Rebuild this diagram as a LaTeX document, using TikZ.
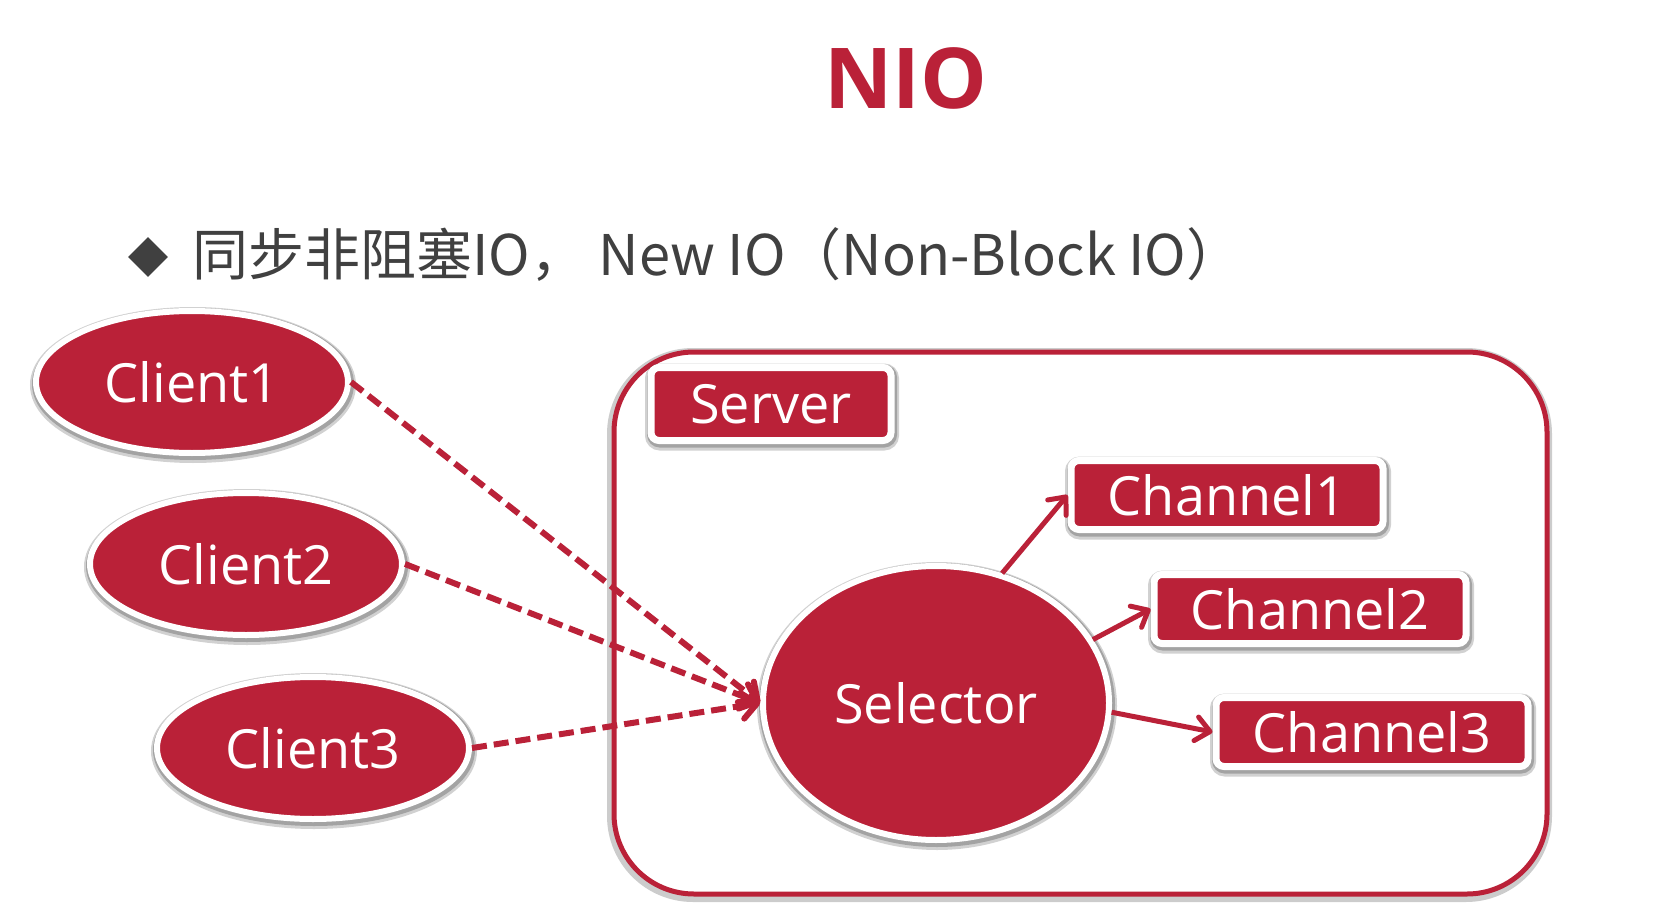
\documentclass[tikz,border=0pt]{standalone}
\usepackage{fontspec}
\setmainfont{Open Sans}
\newfontfamily\cjk{Noto Sans CJK SC}
\usetikzlibrary{shapes.geometric,arrows.meta}
\definecolor{nioRed}{RGB}{186,33,56}
\definecolor{nioGray}{RGB}{64,64,64}

\begin{document}
\begin{tikzpicture}[x=1pt, y=-1pt, every node/.append style={inner sep=0pt}]
    \tikzstyle{lifted}=[preaction={draw=black, draw opacity=0.18, line width=14pt, transform canvas={xshift=1pt, yshift=-3pt}},
                        preaction={draw=black, draw opacity=0.22, line width=10pt, transform canvas={xshift=1pt, yshift=-2pt}}]
    \tikzstyle{client}=[ellipse, lifted, fill=nioRed, draw=white, line width=6pt, text=white, font=\fontsize{54}{60}\selectfont, minimum width=312pt, minimum height=142pt]
    \tikzstyle{box}=[rectangle, rounded corners=8pt, lifted, fill=nioRed, draw=white, line width=7pt, text=white, font=\fontsize{54}{60}\selectfont, minimum height=69pt]
    \tikzstyle{dashlink}=[nioRed, line width=6pt, dash pattern=on 15pt off 7pt, -{Straight Barb[length=15pt, width=26pt, round]}]
    \tikzstyle{link}=[nioRed, line width=5pt, -{Straight Barb[length=14pt, width=24pt, round]}]

    \useasboundingbox (0,0) rectangle (1676,920);

    % Title and bullet line
    \node[text=nioRed, font=\bfseries\fontsize{84}{90}\selectfont, anchor=base] (title) at (906,109) {NIO};
    \node[diamond, fill=nioGray, minimum width=40pt, minimum height=40pt] (dot) at (148,257) {};
    \node[anchor=base west, text=nioGray, font=\cjk\fontsize{56}{60}\selectfont] (line) at (192,276) {同步非阻塞IO， New IO（Non-Block IO）};

    % Draw the server frame
    \node[draw=nioRed, line width=5pt, fill=white, rounded corners=80pt,
          preaction={draw=black, draw opacity=0.2, line width=12pt, transform canvas={xshift=-1pt, yshift=-2pt}},
          minimum width=933pt, minimum height=542pt] (server) at (1080.5,623) {};
    \node[box, minimum width=240pt, minimum height=73pt] (srv) at (771,404) {Server};

    % Draw the selector
    \node[client, minimum width=346pt, minimum height=274pt] (sel) at (936,703) {Selector};

    % Draw the clients
    \foreach \name / \x / \y in {1/192/382, 2/246/564, 3/313/748}
        \node[client] (C-\name) at (\x,\y) {Client\name};

    % Draw the channels
    \foreach \name / \x / \y in {1/1227/495, 2/1310/609, 3/1372/732}
        \node[box, minimum width=312pt] (Ch-\name) at (\x,\y) {Channel\name};

    % Connect every client with the selector
    \foreach \source in {1,...,3}
        \draw[dashlink] (C-\source.east) -- (sel.west);

    % Connect the selector with every channel
    \foreach \dest / \a in {1/63, 2/22, 3/-3}
        \draw[link] (sel.\a) -- (Ch-\dest.west);
\end{tikzpicture}
\end{document}
